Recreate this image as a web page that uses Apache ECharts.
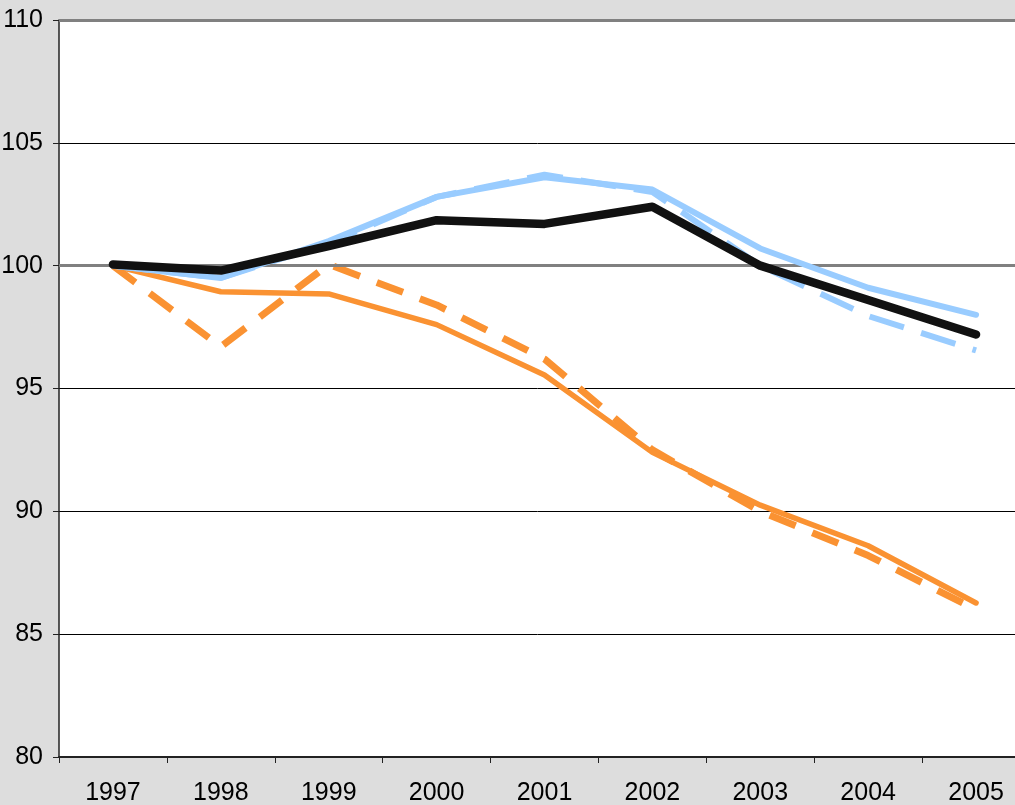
<!DOCTYPE html>
<html>
<head>
<meta charset="utf-8">
<script src="https://cdn.jsdelivr.net/npm/echarts@6/dist/echarts.min.js"></script>
<style>
html,body{margin:0;padding:0;background:#dddddd;overflow:hidden;}
#chart{width:1015px;height:805px;}
</style>
</head>
<body>
<div id="chart"></div>
<script>
var years = ['1997','1998','1999','2000','2001','2002','2003','2004','2005'];
var blackSolid = [100.05, 99.8, 100.8, 101.85, 101.7, 102.4, 100.0, 98.6, 97.2];
var blueSolid = [100.0, 99.5, 101.0, 102.8, 103.6, 103.1, 100.7, 99.1, 98.0];
var blueDashed = [100.0, 99.5, 100.9, 102.8, 103.7, 103.0, 100.0, 97.95, 96.55];
var orangeSolid = [100.0, 98.94, 98.85, 97.6, 95.55, 92.4, 90.25, 88.6, 86.27];
var orangeDashed = [100.0, 96.7, 100.05, 98.4, 96.2, 92.5, 90.0, 88.2, 86.0];
var refLines = [100, 110];

var chart = echarts.init(document.getElementById('chart'), null, {renderer: 'canvas'});
var font = '"Liberation Sans", Arial, sans-serif';
function lineSeries(data, color, width, type, z) {
  return {
    type: 'line', data: data, symbol: 'none', z: z, animation: false,
    lineStyle: {color: color, width: width, type: type, cap: type === 'solid' ? 'round' : 'butt', join: 'round'}
  };
}
chart.setOption({
  backgroundColor: '#dddddd',
  animation: false,
  grid: {left: 59, top: 20, width: 971, height: 737, show: true, backgroundColor: '#ffffff', borderWidth: 0,
         containLabel: false, outerBoundsMode: 'none'},
  xAxis: {
    type: 'category', data: years, boundaryGap: true,
    axisLine: {lineStyle: {color: '#222', width: 2}},
    axisTick: {show: true, length: 6, inside: false, lineStyle: {color: '#222', width: 1}},
    axisLabel: {color: '#000', fontFamily: font, fontSize: 25, margin: 24, letterSpacing: -1}
  },
  yAxis: {
    type: 'value', min: 80, max: 110, interval: 5,
    axisLine: {show: true, lineStyle: {color: '#222', width: 1.5}},
    axisTick: {show: true, length: 6, inside: false, lineStyle: {color: '#222', width: 1}},
    axisLabel: {color: '#000', fontFamily: font, fontSize: 25, margin: 16, letterSpacing: -1.5},
    splitLine: {show: true, lineStyle: {color: '#000', width: 1}}
  },
  series: [
    lineSeries(orangeDashed, '#fa9232', 7, [28, 18], 2),
    lineSeries(orangeSolid, '#fa9232', 5.5, 'solid', 3),
    lineSeries(blueDashed, '#99ccff', 6, [36, 18], 4),
    lineSeries(blueSolid, '#99ccff', 6, 'solid', 5),
    lineSeries(blackSolid, '#111111', 8.5, 'solid', 6),
    {
      type: 'line', data: [], z: 10, animation: false,
      markLine: {
        silent: true, symbol: 'none', label: {show: false}, animation: false,
        lineStyle: {color: '#808080', width: 3, type: 'solid'},
        data: refLines.map(function (v) { return {yAxis: v}; })
      }
    }
  ]
});
</script>
</body>
</html>
